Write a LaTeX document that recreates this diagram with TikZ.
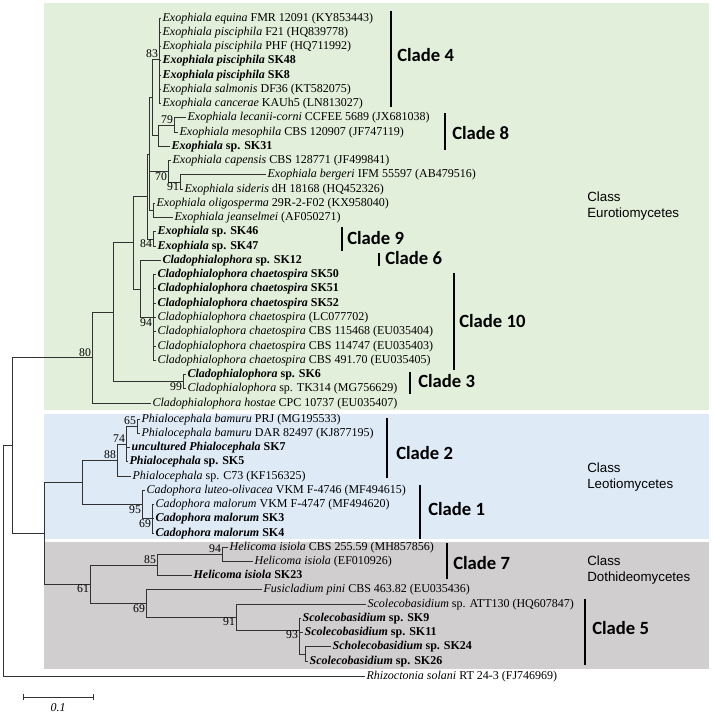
\documentclass[tikz,border=0pt]{standalone}
\usepackage{fontspec}
\setmainfont{Liberation Serif}
\newfontfamily\lsans{Liberation Sans}
\newfontfamily\carl{Carlito}
\definecolor{gbox}{RGB}{226,239,218}
\definecolor{bbox}{RGB}{222,235,247}
\definecolor{dbox}{RGB}{208,206,206}
\definecolor{brc}{RGB}{50,50,50}
\begin{document}
\begin{tikzpicture}[x=0.75pt,y=-0.75pt,
 tip/.style={anchor=west,inner sep=1pt,text height=6.4pt,text depth=1.9pt,font=\fontsize{9}{10}\selectfont},
 bs/.style={inner sep=0.6pt,font=\fontsize{8.8}{10}\selectfont},
 bsa/.style={bs,anchor=south east},
 bsb/.style={bs,anchor=north east},
 br/.style={draw=brc,line width=0.7pt},
 cbar/.style={line width=2.2pt},
 clade/.style={anchor=west,font=\carl\bfseries\fontsize{14}{16}\selectfont,inner sep=0pt},
 cls/.style={anchor=west,align=left,font=\lsans\fontsize{10}{12}\selectfont,inner sep=0pt}]
\useasboundingbox (0,0) rectangle (714,714);
% class boxes
\fill[gbox] (44,3) rectangle (709,410);
\fill[bbox] (44,414) rectangle (709,539);
\fill[dbox] (44,542) rectangle (709,669);
% internal nodes
\coordinate (root) at (3,560);
\coordinate (nA) at (12,445);
\coordinate (n80) at (92,357.5);
\coordinate (nN3) at (113,312);
\coordinate (nN2) at (133,242.7);
\coordinate (nExo) at (147,196.5);
\coordinate (nX) at (149,154);
\coordinate (nY) at (152,97.4);
\coordinate (n83) at (159,59);
\coordinate (n8) at (158,135.7);
\coordinate (n79) at (174,125);
\coordinate (n70) at (168,171.3);
\coordinate (n91b) at (180,182);
\coordinate (nZ) at (153,210.5);
\coordinate (n84) at (153,239);
\coordinate (nClado) at (140,289);
\coordinate (n94) at (153,317.5);
\coordinate (n99) at (183,381.6);
\coordinate (nLD) at (44,533);
\coordinate (nLeo) at (82,482);
\coordinate (n88) at (117,460);
\coordinate (n74) at (126,444);
\coordinate (n65) at (137,426);
\coordinate (n95) at (142,504.5);
\coordinate (n69L) at (152,518.75);
\coordinate (n61) at (90,584);
\coordinate (n85) at (157,565);
\coordinate (n94D) at (222,554);
\coordinate (n69D) at (146,603.4);
\coordinate (n91D) at (236,617);
\coordinate (n93) at (299,630);
\coordinate (n2426) at (305,654);
% tips
\node[tip] (t01) at (161,18) {\textit{Exophiala equina} FMR 12091 (KY853443)};
\node[tip] (t02) at (161,32.3) {\textit{Exophiala pisciphila} F21 (HQ839778)};
\node[tip] (t03) at (161,46.5) {\textit{Exophiala pisciphila} PHF (HQ711992)};
\node[tip] (t04) at (161,60.8) {\textbf{\textit{Exophiala pisciphila} SK48}};
\node[tip] (t05) at (161,75) {\textbf{\textit{Exophiala pisciphila} SK8}};
\node[tip] (t06) at (161,89.3) {\textit{Exophiala salmonis} DF36 (KT582075)};
\node[tip] (t07) at (161,103.6) {\textit{Exophiala cancerae} KAUh5 (LN813027)};
\node[tip] (t08) at (186,117.8) {\textit{Exophiala lecanii-corni} CCFEE 5689 (JX681038)};
\node[tip] (t09) at (178,132.1) {\textit{Exophiala mesophila} CBS 120907 (JF747119)};
\node[tip] (t10) at (170,146.3) {\textbf{\textit{Exophiala} sp. SK31}};
\node[tip] (t11) at (171,160.6) {\textit{Exophiala capensis} CBS 128771 (JF499841)};
\node[tip] (t12) at (266,174.9) {\textit{Exophiala bergeri} IFM 55597 (AB479516)};
\node[tip] (t13) at (183,189.1) {\textit{Exophiala sideris} dH 18168 (HQ452326)};
\node[tip] (t14) at (155,203.4) {\textit{Exophiala oligosperma} 29R-2-F02 (KX958040)};
\node[tip] (t15) at (173,217.6) {\textit{Exophiala jeanselmei} (AF050271)};
\node[tip] (t16) at (156,231.9) {\textbf{\textit{Exophiala} sp. SK46}};
\node[tip] (t17) at (156,246.2) {\textbf{\textit{Exophiala} sp. SK47}};
\node[tip] (t18) at (161,260.4) {\textbf{\textit{Cladophialophora} sp. SK12}};
\node[tip] (t19) at (156,274.7) {\textbf{\textit{Cladophialophora chaetospira} SK50}};
\node[tip] (t20) at (156,288.9) {\textbf{\textit{Cladophialophora chaetospira} SK51}};
\node[tip] (t21) at (156,303.2) {\textbf{\textit{Cladophialophora chaetospira} SK52}};
\node[tip] (t22) at (156,317.5) {\textit{Cladophialophora chaetospira} (LC077702)};
\node[tip] (t23) at (156,331.7) {\textit{Cladophialophora chaetospira} CBS 115468 (EU035404)};
\node[tip] (t24) at (156,346) {\textit{Cladophialophora chaetospira} CBS 114747 (EU035403)};
\node[tip] (t25) at (156,360.2) {\textit{Cladophialophora chaetospira} CBS 491.70 (EU035405)};
\node[tip] (t26) at (186,374.5) {\textbf{\textit{Cladophialophora} sp. SK6}};
\node[tip] (t27) at (186,388.8) {\textit{Cladophialophora} sp. TK314 (MG756629)};
\node[tip] (t28) at (151,403) {\textit{Cladophialophora hostae} CPC 10737 (EU035407)};
\node[tip] (t29) at (140,419) {\textit{Phialocephala bamuru} PRJ (MG195533)};
\node[tip] (t30) at (140,433.25) {\textit{Phialocephala bamuru} DAR 82497 (KJ877195)};
\node[tip] (t31) at (130,447.5) {\textbf{\textit{uncultured Phialocephala} SK7}};
\node[tip] (t32) at (128,461.75) {\textbf{\textit{Phialocephala} sp. SK5}};
\node[tip] (t33) at (131,476) {\textit{Phialocephala} sp. C73 (KF156325)};
\node[tip] (t34) at (145,490.25) {\textit{Cadophora luteo-olivacea} VKM F-4746 (MF494615)};
\node[tip] (t35) at (154,504.5) {\textit{Cadophora malorum} VKM F-4747 (MF494620)};
\node[tip] (t36) at (154,518.75) {\textbf{\textit{Cadophora malorum} SK3}};
\node[tip] (t37) at (154,533) {\textbf{\textit{Cadophora malorum} SK4}};
\node[tip] (t38) at (228,547) {\textit{Helicoma isiola} CBS 255.59 (MH857856)};
\node[tip] (t39) at (253,561.25) {\textit{Helicoma isiola} (EF010926)};
\node[tip] (t40) at (192,575.5) {\textbf{\textit{Helicoma isiola} SK23}};
\node[tip] (t41) at (262,589.75) {\textit{Fusicladium pini} CBS 463.82 (EU035436)};
\node[tip] (t42) at (366,604) {\textit{Scolecobasidium} sp. ATT130 (HQ607847)};
\node[tip] (t43) at (301,618.25) {\textbf{\textit{Scolecobasidium} sp. SK9}};
\node[tip] (t44) at (303,632.5) {\textbf{\textit{Scolecobasidium} sp. SK11}};
\node[tip] (t45) at (331,646.75) {\textbf{\textit{Scholecobasidium} sp. SK24}};
\node[tip] (t46) at (308,661) {\textbf{\textit{Scolecobasidium} sp. SK26}};
\node[tip] (t47) at (365,676) {\textit{Rhizoctonia solani} RT 24-3 (FJ746969)};
% branches
\draw[br] (root) |- (nA); \draw[br] (root) |- (t47.west);
\draw[br] (nA) |- (n80); \draw[br] (nA) |- (nLD);
\draw[br] (n80) |- (nN3); \draw[br] (n80) |- (t28.west);
\draw[br] (nN3) |- (nN2); \draw[br] (nN3) |- (n99);
\draw[br] (n99) |- (t26.west); \draw[br] (n99) |- (t27.west);
\draw[br] (nN2) |- (nExo); \draw[br] (nN2) |- (nClado);
\draw[br] (nClado) |- (t18.west); \draw[br] (nClado) |- (n94);
\draw[br] (n94) |- (t19.west); \draw[br] (n94) |- (t25.west);
\foreach \t in {t20,t21,t22,t23,t24} {\draw[br] (n94|-\t.west) -- (\t.west);}
\draw[br] (nExo) |- (nX); \draw[br] (nExo) |- (n84);
\draw[br] (n84) |- (t16.west); \draw[br] (n84) |- (t17.west);
\draw[br] (nX) |- (nY); \draw[br] (nX) |- (nZ);
\draw[br] (nX|-n70) -- (n70);
\draw[br] (nZ) |- (t14.west); \draw[br] (nZ) |- (t15.west);
\draw[br] (n70) |- (t11.west); \draw[br] (n70) |- (n91b);
\draw[br] (n91b) |- (t12.west); \draw[br] (n91b) |- (t13.west);
\draw[br] (nY) |- (n83); \draw[br] (nY) |- (n8);
\draw[br] (n83) |- (t01.west); \draw[br] (n83) |- (t07.west);
\foreach \t in {t02,t03,t04,t05,t06} {\draw[br] (n83|-\t.west) -- (\t.west);}
\draw[br] (n8) |- (n79); \draw[br] (n8) |- (t10.west);
\draw[br] (n79) |- (t08.west); \draw[br] (n79) |- (t09.west);
\draw[br] (nLD) |- (nLeo); \draw[br] (nLD) |- (n61);
\draw[br] (nLeo) |- (n88); \draw[br] (nLeo) |- (n95);
\draw[br] (n88) |- (n74); \draw[br] (n88) |- (t33.west);
\draw[br] (n74) |- (n65); \draw[br] (n74) |- (t32.west);
\draw[br] (n74|-t31.west) -- (t31.west);
\draw[br] (n65) |- (t29.west); \draw[br] (n65) |- (t30.west);
\draw[br] (n95) |- (t34.west); \draw[br] (n95) |- (n69L);
\draw[br] (n69L) |- (t35.west); \draw[br] (n69L) |- (t37.west);
\draw[br] (n69L|-t36.west) -- (t36.west);
\draw[br] (n61) |- (n85); \draw[br] (n61) |- (n69D);
\draw[br] (n85) |- (n94D); \draw[br] (n85) |- (t40.west);
\draw[br] (n94D) |- (t38.west); \draw[br] (n94D) |- (t39.west);
\draw[br] (n69D) |- (t41.west); \draw[br] (n69D) |- (n91D);
\draw[br] (n91D) |- (t42.west); \draw[br] (n91D) |- (n93);
\draw[br] (n93) |- (t43.west); \draw[br] (n93) |- (n2426);
\draw[br] (n93|-t44.west) -- (t44.west);
\draw[br] (n2426) |- (t45.west); \draw[br] (n2426) |- (t46.west);
% bootstrap values
\node[bsa] (b83) at (n83) {83};
\node[bsa] (b79) at (n79) {79};
\node[bsb] (b70) at (n70) {70};
\node[bsb] (b91a) at (n91b) {91};
\node[bsb] (b84) at (n84) {84};
\node[bsb] (b94a) at (n94) {94};
\node[bsa] (b80) at (n80) {80};
\node[bsb] (b99) at (n99) {99};
\node[bsa] (b65) at (n65) {65};
\node[bsa] (b74) at (n74) {74};
\node[bsa] (b88) at (n88) {88};
\node[bsb] (b95) at (n95) {95};
\node[bsb] (b69a) at (n69L) {69};
\node[bsa] (b94b) at (n94D) {94};
\node[bsa] (b85) at (n85) {85};
\node[bsb] (b61) at (n61) {61};
\node[bsb] (b69b) at (n69D) {69};
\node[bsb] (b91b) at (n91D) {91};
\node[bsb] (b93) at (n93) {93};
% clade bars
\draw[cbar] (391,11) -- (391,107);   \node[clade] (c4) at (397,55) {Clade 4};
\draw[cbar] (445,113) -- (445,150);  \node[clade] (c8) at (452,133) {Clade 8};
\draw[cbar] (342,227) -- (342,251);  \node[clade] (c9) at (347,238) {Clade 9};
\draw[cbar] (379,253) -- (379,266);  \node[clade] (c6) at (385,258) {Clade 6};
\draw[cbar] (454,273) -- (454,370);  \node[clade] (c10) at (459,321) {Clade 10};
\draw[cbar] (410,372) -- (410,394);  \node[clade] (c3) at (418,381) {Clade 3};
\draw[cbar] (387,418) -- (387,478);  \node[clade] (c2) at (396,453) {Clade 2};
\draw[cbar] (420,485) -- (420,539);  \node[clade] (c1) at (428,509) {Clade 1};
\draw[cbar] (447,543) -- (447,579);  \node[clade] (c7) at (453,563) {Clade 7};
\draw[cbar] (585,599) -- (585,665);  \node[clade] (c5) at (592,628) {Clade 5};
% class labels
\node[cls] (k1) at (587,206) {Class\\Eurotiomycetes};
\node[cls] (k2) at (587,477.5) {Class\\Leotiomycetes};
\node[cls] (k3) at (587,570) {Class\\Dothideomycetes};
% scale bar
\coordinate (s1) at (23,697); \coordinate (s2) at (93,697);
\draw[br] (s1) -- (s2);
\draw[br] ([yshift=-2.2pt]s1) -- ([yshift=2.2pt]s1);
\draw[br] ([yshift=-2.2pt]s2) -- ([yshift=2.2pt]s2);
\node[bs,font=\itshape\fontsize{9}{10}\selectfont] (sc) at (58,708) {0.1};
\end{tikzpicture}
\end{document}
